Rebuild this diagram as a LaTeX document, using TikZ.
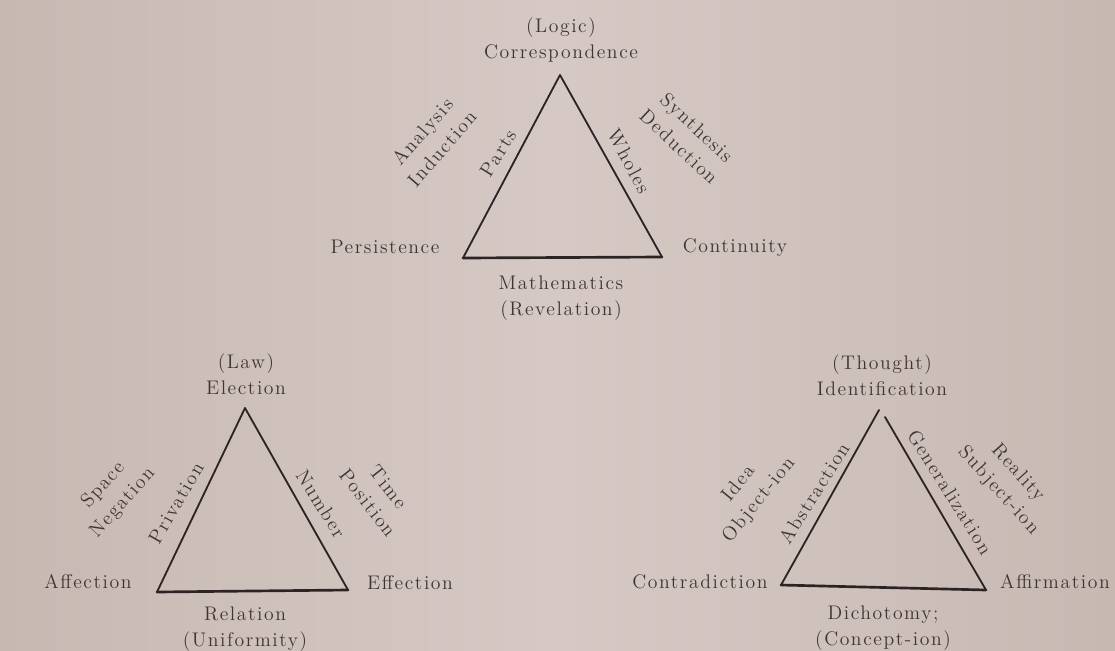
\documentclass[tikz,border=0pt]{standalone}
\usepackage{fontspec}
\setmainfont{Latin Modern Roman}[LetterSpace=8]
\usepackage{xcolor}
\definecolor{paper}{RGB}{199,184,178}
\definecolor{paperlight}{RGB}{214,201,197}
\definecolor{ink}{RGB}{62,54,54}
\definecolor{edgeink}{RGB}{44,36,36}

\tikzset{
  word/.style={text=ink,font=\fontsize{14}{18.5}\selectfont,inner sep=1pt},
  pair/.style={word,align=center},
  side/.style={edgeink,line width=1.3pt,line cap=round,line join=round},
  floor/.style={edgeink,line width=1.9pt,line cap=round}
}

\begin{document}
\begin{tikzpicture}[x=0.025cm,y=-0.025cm]
\shade[left color=paper,right color=paper,middle color=paperlight] (0,0) rectangle (1115,650);
\useasboundingbox (0,0) rectangle (1115,650);
% logic
\coordinate (LgA) at (560,75);
\coordinate (LgB) at (463,258);
\coordinate (LgC) at (662,257);
\draw[side] (LgB) -- (LgA) -- (LgC);
\draw[floor] (LgB) -- (LgC);
\node[pair] (LgTop) at (561,40) {(Logic)\\Correspondence};
\node[word] (LgLeft) at (385,247) {Persistence};
\node[word] (LgRight) at (735,248) {Continuity};
\node[pair] (LgBot) at (561,298) {Mathematics\\(Revelation)};
\node[word,rotate=58] (LgIn) at (498,153) {Parts};
\node[word,rotate=-62] (LgOut) at (629,161) {Wholes};
\node[pair,rotate=49] (LgFarL) at (432,140) {Analysis\\Induction};
\node[pair,rotate=-43] (LgFarR) at (688,137) {Synthesis\\Deduction};
% law
\coordinate (LwA) at (245,408);
\coordinate (LwB) at (157,592);
\coordinate (LwC) at (348,590);
\draw[side] (LwB) -- (LwA) -- (LwC);
\draw[floor] (LwB) -- (LwC);
\node[pair] (LwTop) at (246,374) {(Law)\\Election};
\node[word] (LwLeft) at (88,582) {Affection};
\node[word] (LwRight) at (410,583) {Effection};
\node[pair] (LwBot) at (245,629) {Relation\\(Uniformity)};
\node[word,rotate=60] (LwIn) at (176,503) {Privation};
\node[word,rotate=-58] (LwOut) at (321,504) {Number};
\node[pair,rotate=48] (LwFarL) at (113,494) {Space\\Negation};
\node[pair,rotate=-52] (LwFarR) at (378,495) {Time\\Position};
% thought
\coordinate (ThA) at (879,410);
\coordinate (ThA2) at (885,417);
\coordinate (ThB) at (781,585);
\coordinate (ThC) at (986,590);
\draw[side] (ThB) -- (ThA);
\draw[side] (ThA2) -- (ThC);
\draw[floor] (ThB) -- (ThC);
\node[pair] (ThTop) at (882,375) {(Thought)\\Identification};
\node[word] (ThLeft) at (700,582) {Contradiction};
\node[word] (ThRight) at (1055,582) {Affirmation};
\node[pair] (ThBot) at (883,628) {Dichotomy;\\(Concept-ion)};
\node[word,rotate=58] (ThIn) at (814,493) {Abstraction};
\node[word,rotate=-58] (ThOut) at (950,492) {Generalization};
\node[pair,rotate=51] (ThFarL) at (749,492) {Idea\\Object-ion};
\node[pair,rotate=-48] (ThFarR) at (1008,482) {Reality\\Subject-ion};
\end{tikzpicture}
\end{document}
